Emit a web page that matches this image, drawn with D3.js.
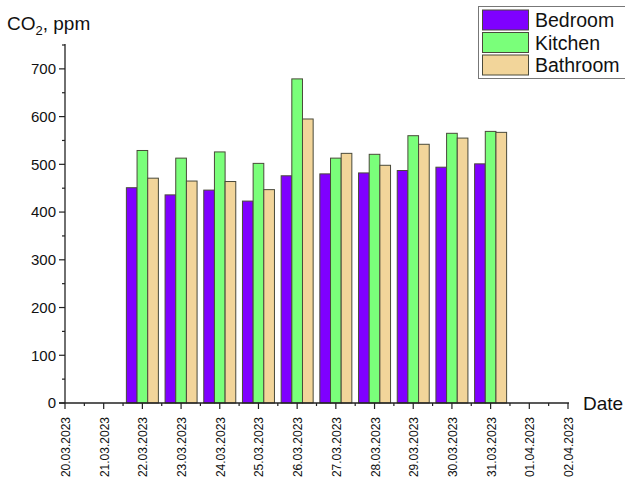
<!DOCTYPE html>
<html>
<head>
<meta charset="utf-8">
<script src="https://cdn.jsdelivr.net/npm/d3@7"></script>
<style>
  html, body { margin: 0; padding: 0; background: #fff; }
  svg { display: block; font-family: "Liberation Sans", Arial, sans-serif; }
</style>
</head>
<body>
<svg id="chart" width="625" height="479"></svg>
<script>
// Daily CO2 readings per room
const dates = ["20.03.2023","21.03.2023","22.03.2023","23.03.2023","24.03.2023","25.03.2023",
  "26.03.2023","27.03.2023","28.03.2023","29.03.2023","30.03.2023","31.03.2023","01.04.2023","02.04.2023"];
const measuredDates = ["22.03.2023","23.03.2023","24.03.2023","25.03.2023","26.03.2023",
  "27.03.2023","28.03.2023","29.03.2023","30.03.2023","31.03.2023"];
const bedroom  = [451, 436, 446, 423, 476, 480, 482, 487, 494, 501];
const kitchen  = [529, 513, 526, 502, 679, 513, 521, 560, 565, 569];
const bathroom = [471, 465, 464, 447, 595, 523, 498, 542, 555, 567];
const seriesNames = ["Bedroom", "Kitchen", "Bathroom"];
const yTicks = [0, 100, 200, 300, 400, 500, 600, 700];

const colors = { Bedroom: "#7f00ff", Kitchen: "#7aff7a", Bathroom: "#f2d59a" };

const svg = d3.select("#chart");
const x0 = 65, x1 = 568, yBase = 403, yTop = 45;

const x = d3.scalePoint().domain(dates).range([x0, x1]);
const y = d3.scaleLinear().domain([0, 750]).range([yBase, yTop]);
const step = x.step();
const sub = d3.scaleBand().domain(seriesNames).range([-16, 16]);

const rows = measuredDates.map((d, i) => ({
  date: d, values: [bedroom[i], kitchen[i], bathroom[i]]
}));

// Bars
const g = svg.append("g");
rows.forEach(r => {
  seriesNames.forEach((s, j) => {
    g.append("rect")
      .attr("x", x(r.date) + sub(s))
      .attr("y", y(r.values[j]))
      .attr("width", sub.bandwidth())
      .attr("height", y(0) - y(r.values[j]))
      .attr("fill", colors[s])
      .attr("stroke", "#4a4a3a")
      .attr("stroke-width", 1);
  });
});

// Y axis
const yAxis = svg.append("g").attr("transform", `translate(${x0},0)`);
yAxis.append("line").attr("x1", 0).attr("x2", 0).attr("y1", y(0)).attr("y2", yTop - 1)
  .attr("stroke", "#222").attr("stroke-width", 1.3);
yTicks.forEach(v => {
  yAxis.append("line").attr("x1", -6).attr("x2", 0).attr("y1", y(v)).attr("y2", y(v))
    .attr("stroke", "#222").attr("stroke-width", 1.2);
  yAxis.append("text").attr("x", -9).attr("y", y(v)).attr("dy", "0.35em")
    .attr("text-anchor", "end").attr("font-size", 15).attr("fill", "#111").text(v);
});
y.ticks(15).filter(v => v % 100 !== 0).forEach(v => {
  yAxis.append("line").attr("x1", -3).attr("x2", 0).attr("y1", y(v)).attr("y2", y(v))
    .attr("stroke", "#222").attr("stroke-width", 1.2);
});

// X axis
const xAxis = svg.append("g").attr("transform", `translate(0,${yBase})`);
xAxis.append("line").attr("x1", x0 - 6).attr("x2", x1 + 1).attr("y1", 0).attr("y2", 0)
  .attr("stroke", "#222").attr("stroke-width", 1.3);
dates.forEach((d, i) => {
  const px = x(d);
  xAxis.append("line").attr("x1", px).attr("x2", px).attr("y1", 0).attr("y2", 6)
    .attr("stroke", "#222").attr("stroke-width", 1.2);
  if (i < dates.length - 1) {
    const mx = px + step / 2;
    xAxis.append("line").attr("x1", mx).attr("x2", mx).attr("y1", 0).attr("y2", 3)
      .attr("stroke", "#222").attr("stroke-width", 1.2);
  }
  xAxis.append("text")
    .attr("transform", `translate(${px + 5},${14}) rotate(-90)`)
    .attr("text-anchor", "end").attr("font-size", 12).attr("fill", "#111").text(d);
});

// Axis titles
const yTitle = svg.append("text").attr("x", 7).attr("y", 30).attr("font-size", 19).attr("fill", "#111");
yTitle.append("tspan").text("CO");
yTitle.append("tspan").attr("font-size", 13).attr("dy", 5).text("2");
yTitle.append("tspan").attr("dy", -5).text(", ppm");

svg.append("text").attr("x", 583).attr("y", 410).attr("font-size", 19).attr("fill", "#111").text("Date");

// Legend
const lg = svg.append("g");
lg.append("rect").attr("x", 478.5).attr("y", 6.5).attr("width", 160).attr("height", 72)
  .attr("fill", "#fff").attr("stroke", "#777").attr("stroke-width", 1);
seriesNames.forEach((s, i) => {
  const ly = 10 + i * 22.5;
  lg.append("rect").attr("x", 482.5).attr("y", ly).attr("width", 46).attr("height", 20)
    .attr("fill", colors[s]).attr("stroke", "#4a4a3a").attr("stroke-width", 1);
  lg.append("text").attr("x", 535).attr("y", ly + 10).attr("dy", "0.36em")
    .attr("font-size", 19.5).attr("fill", "#111").text(s);
});
</script>
</body>
</html>
